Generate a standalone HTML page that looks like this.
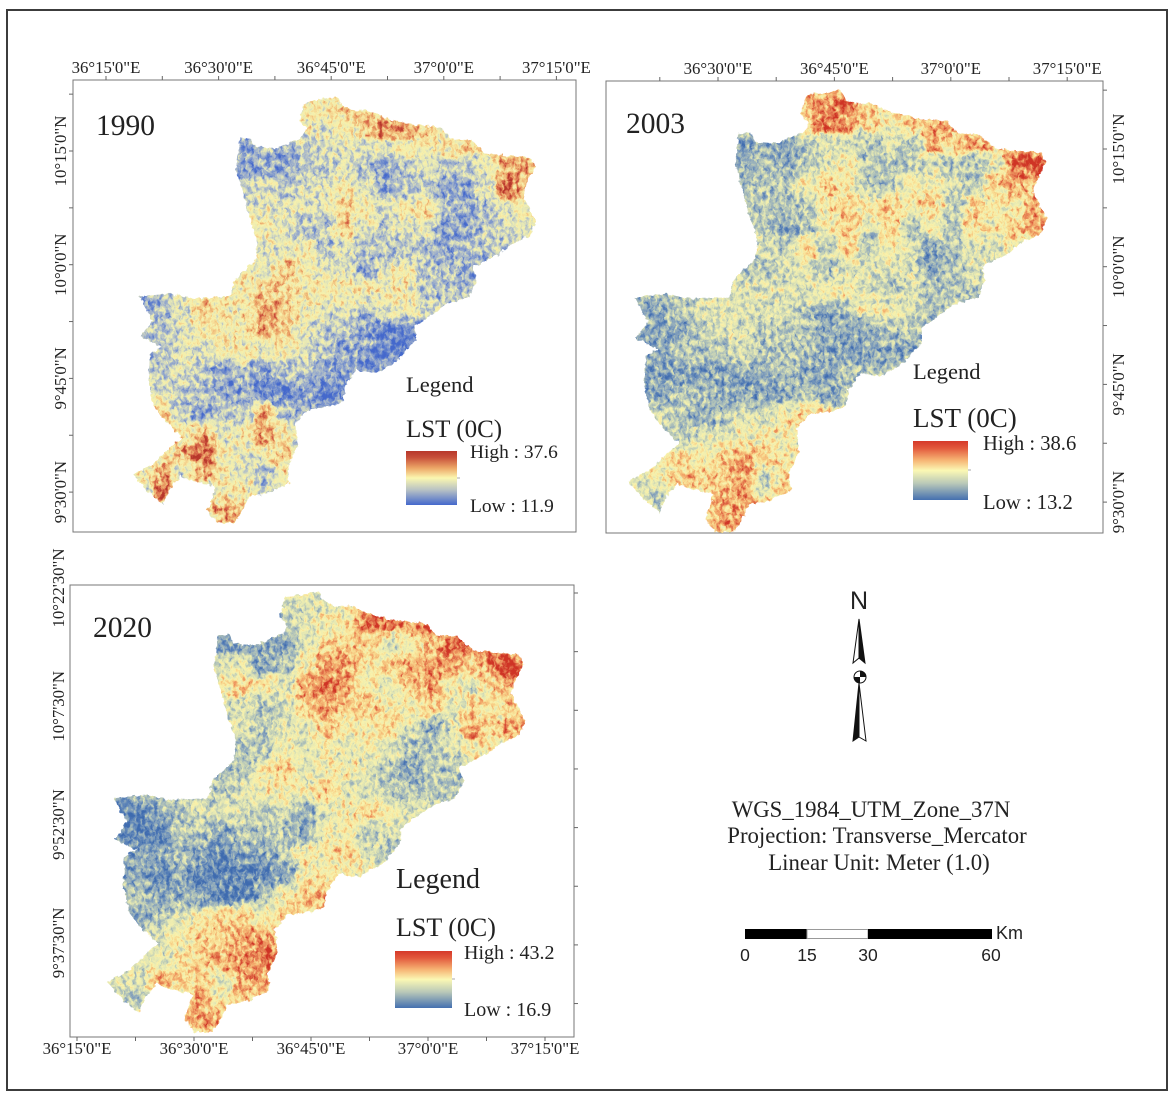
<!DOCTYPE html>
<html lang="en">
<head>
<meta charset="utf-8">
<title>LST maps 1990, 2003, 2020</title>
<style>
html,body{margin:0;padding:0;background:#fff;}
#fig{position:absolute;left:0;top:0;width:1175px;height:1097px;display:block;}
text{font-family:"Liberation Serif",serif;fill:#222;}
.sans{font-family:"Liberation Sans",sans-serif;}
</style>
</head>
<body>
<svg id="fig" xmlns="http://www.w3.org/2000/svg" width="1175" height="1097" viewBox="0 0 1175 1097">
<defs>
<filter id="edge" x="-3%" y="-3%" width="106%" height="106%" color-interpolation-filters="sRGB">
<feTurbulence type="fractalNoise" baseFrequency="0.22" numOctaves="2" seed="9" result="t"/>
<feDisplacementMap in="SourceGraphic" in2="t" scale="5" xChannelSelector="R" yChannelSelector="G"/>
</filter>
<linearGradient id="bar1990" x1="0" y1="0" x2="0" y2="1">
<stop offset="0" stop-color="#b7372b"/><stop offset=".12" stop-color="#c8503a"/><stop offset=".32" stop-color="#eda868"/><stop offset=".5" stop-color="#fbf7b0"/><stop offset=".72" stop-color="#b8c2c4"/><stop offset="1" stop-color="#4468cc"/>
</linearGradient>
<linearGradient id="barWarm" x1="0" y1="0" x2="0" y2="1">
<stop offset="0" stop-color="#d5392a"/><stop offset=".12" stop-color="#e2583c"/><stop offset=".32" stop-color="#f6b272"/><stop offset=".5" stop-color="#fbf8b4"/><stop offset=".72" stop-color="#b9c8b8"/><stop offset="1" stop-color="#4470b0"/>
</linearGradient>
</defs>

<rect x="7" y="10" width="1160" height="1080" fill="#fff" stroke="#3c3c3c" stroke-width="2"/>

<g id="maps"></g>

<text x="96" y="135" font-size="29.5">1990</text>
<text x="626" y="133" font-size="29.5">2003</text>
<text x="93" y="637" font-size="29.5">2020</text>

<g>
<text x="406" y="392" font-size="22.5">Legend</text>
<text x="406" y="437" font-size="25">LST (0C)</text>
<rect x="406" y="451" width="51" height="54" fill="url(#bar1990)"/>
<line x1="457" y1="478" x2="460" y2="478" stroke="#aaa"/>
<text x="470" y="458" font-size="19.4">High : 37.6</text>
<text x="470" y="512" font-size="19.4">Low : 11.9</text>
</g>
<g>
<text x="913" y="379" font-size="22.5">Legend</text>
<text x="913" y="427" font-size="27">LST (0C)</text>
<rect x="913" y="441" width="55" height="59" fill="url(#barWarm)"/>
<line x1="968" y1="470" x2="971" y2="470" stroke="#aaa"/>
<text x="983" y="450" font-size="20.6">High : 38.6</text>
<text x="983" y="509" font-size="20.6">Low : 13.2</text>
</g>
<g>
<text x="396" y="888" font-size="28">Legend</text>
<text x="396" y="936" font-size="26">LST (0C)</text>
<rect x="395" y="951" width="57" height="57" fill="url(#barWarm)"/>
<line x1="452" y1="979" x2="455" y2="979" stroke="#aaa"/>
<text x="464" y="959" font-size="20">High : 43.2</text>
<text x="464" y="1016" font-size="20">Low : 16.9</text>
</g>

<g>
<text class="sans" x="859" y="609" font-size="25" text-anchor="middle" fill="#111">N</text>
<path d="M859 619 L853 663 L859 658 Z" fill="#fff" stroke="#111" stroke-width="1"/>
<path d="M859 619 L865 663 L859 658 Z" fill="#111" stroke="#111" stroke-width="1"/>
<circle cx="860" cy="677" r="6" fill="#fff" stroke="#111" stroke-width="1"/>
<path d="M860 671 A6 6 0 0 1 866 677 L854 677 A6 6 0 0 0 860 683 Z" fill="#111"/>
<path d="M859 683 L853 741 L859 737 Z" fill="#111" stroke="#111" stroke-width="1"/>
<path d="M859 683 L866 741 L859 737 Z" fill="#fff" stroke="#111" stroke-width="1"/>
</g>

<g>
<text x="871" y="817" font-size="22.8" text-anchor="middle">WGS_1984_UTM_Zone_37N</text>
<text x="877" y="843" font-size="22.8" text-anchor="middle">Projection: Transverse_Mercator</text>
<text x="879" y="870" font-size="22.8" text-anchor="middle">Linear Unit: Meter (1.0)</text>
</g>

<g>
<rect x="745" y="929" width="62" height="10" fill="#000"/>
<rect x="807" y="929.5" width="61" height="9" fill="#fff" stroke="#999"/>
<rect x="868" y="929" width="124" height="10" fill="#000"/>
<text class="sans" x="996" y="939" font-size="18">Km</text>
<text class="sans" x="745" y="961" font-size="17.5" text-anchor="middle">0</text>
<text class="sans" x="807" y="961" font-size="17.5" text-anchor="middle">15</text>
<text class="sans" x="868" y="961" font-size="17.5" text-anchor="middle">30</text>
<text class="sans" x="991" y="961" font-size="17.5" text-anchor="middle">60</text>
</g>
</svg>

<script>
// Temperature class grids (0 coolest .. 9 hottest), read per map row, north to south.
const lst1990 = [
[4,4,4,4,4,4,4,4,5,5,6,6,6,5,5,5,5,5,5,5],
[3,3,3,3,3,3,3,4,5,4,5,6,8,7,6,5,5,5,5,5],
[3,3,3,3,3,2,3,2,3,4,4,4,4,5,5,5,6,5,6,6],
[3,3,3,3,3,2,2,2,3,3,4,3,2,3,4,3,3,4,7,7],
[3,3,3,3,3,3,4,3,4,4,5,4,2,3,3,2,2,4,8,6],
[4,4,4,4,4,4,4,4,4,4,6,5,4,5,6,3,2,3,4,5],
[4,4,4,4,4,5,5,4,3,3,6,4,3,4,4,2,2,3,4,4],
[4,4,4,4,4,4,4,4,5,3,4,3,3,3,3,2,3,3,3,3],
[4,4,4,4,5,5,4,6,5,4,4,2,4,5,3,3,2,2,3,3],
[2,3,4,5,5,5,6,6,5,5,5,5,5,5,3,3,3,3,3,3],
[2,3,4,6,5,5,7,6,5,4,4,3,4,5,4,3,4,4,4,4],
[3,3,4,5,5,5,7,6,4,3,3,2,1,1,2,2,3,3,3,3],
[3,3,4,4,5,5,4,5,4,3,2,2,1,1,2,2,3,3,3,3],
[3,3,4,3,2,3,2,3,3,2,2,1,2,2,2,2,3,3,3,3],
[4,4,3,3,2,2,1,1,2,1,1,2,2,2,2,2,3,3,3,3],
[6,6,3,2,3,3,7,3,2,2,3,3,3,3,3,3,3,3,3,3],
[5,5,5,6,4,5,7,5,3,3,3,3,3,3,3,3,3,3,3,3],
[4,5,7,8,5,4,5,6,4,4,4,4,4,4,4,4,4,4,4,4],
[5,7,4,7,5,4,3,5,5,5,5,5,5,5,5,5,5,5,5,5],
[4,8,5,4,5,5,3,4,4,4,4,4,4,4,4,4,4,4,4,4],
[4,4,5,5,7,6,4,4,4,4,4,4,4,4,4,4,4,4,4,4]
];
const lst2003 = [
[5,5,5,5,5,5,5,6,7,7,8,6,5,5,5,5,5,5,5,5],
[3,3,3,3,3,3,3,3,6,8,7,6,5,6,7,7,6,6,6,6],
[3,3,3,3,3,2,2,2,3,4,4,3,4,3,7,6,7,7,6,6],
[3,3,3,3,3,2,3,2,3,4,5,3,3,3,4,3,3,4,8,9],
[3,3,3,3,3,3,3,3,5,6,5,3,3,5,5,4,3,6,7,6],
[3,3,3,3,3,3,3,3,3,5,6,5,6,5,6,3,6,5,5,7],
[3,3,3,3,3,3,3,2,3,5,6,4,6,3,5,3,6,5,6,7],
[4,4,4,4,4,4,4,3,6,3,6,3,5,4,2,3,4,4,5,5],
[3,3,3,3,3,3,3,4,4,3,4,4,4,4,2,3,4,4,4,4],
[3,3,3,3,4,4,4,4,4,5,5,4,3,4,3,3,3,3,3,3],
[2,2,3,4,4,4,4,4,3,2,3,5,5,4,3,3,3,3,3,3],
[2,2,2,3,4,4,3,3,3,2,2,2,3,3,3,3,3,3,3,3],
[2,2,3,3,3,4,3,3,3,2,2,2,2,2,2,2,2,2,2,2],
[2,2,2,2,2,2,2,3,2,2,3,3,3,3,3,3,3,3,3,3],
[2,2,3,3,2,2,2,2,3,2,3,3,3,3,3,3,3,3,3,3],
[4,4,3,2,3,4,4,5,6,6,5,5,5,5,5,5,5,5,5,5],
[3,3,3,4,4,5,5,5,5,5,5,5,5,5,5,5,5,5,5,5],
[5,5,6,5,6,7,6,5,5,5,5,5,5,5,5,5,5,5,5,5],
[4,5,6,6,6,7,3,6,5,5,5,5,5,5,5,5,5,5,5,5],
[4,3,5,5,7,7,6,6,6,6,6,6,6,6,6,6,6,6,6,6],
[5,5,5,6,7,7,6,6,6,6,6,6,6,6,6,6,6,6,6,6]
];
const lst2020 = [
[4,4,4,4,4,4,4,4,4,4,4,5,6,7,6,6,6,6,6,6],
[3,3,3,3,3,3,3,3,3,4,5,5,8,8,7,8,6,6,6,6],
[3,3,3,3,3,2,2,2,2,4,6,6,6,4,5,6,8,8,7,6],
[4,4,4,4,4,4,4,2,3,5,7,7,5,6,7,7,7,6,8,9],
[5,5,5,5,5,5,6,5,4,7,8,7,5,4,6,7,5,4,6,7],
[4,4,4,4,4,4,4,3,4,6,7,6,6,5,5,6,4,6,5,6],
[4,4,4,4,4,4,4,3,4,4,6,5,5,6,4,2,4,7,6,7],
[3,3,3,3,3,3,3,3,5,4,5,4,5,4,3,3,4,5,5,5],
[3,3,3,3,3,3,3,5,6,4,5,5,4,3,2,3,3,4,4,4],
[3,3,3,3,3,3,4,5,5,5,6,4,4,3,3,3,3,3,3,3],
[1,1,2,3,4,4,4,3,4,2,4,5,6,5,4,4,4,4,4,4],
[1,1,1,3,3,2,3,3,3,2,5,5,3,4,4,4,4,4,4,4],
[2,2,2,3,2,1,2,2,3,5,5,6,4,3,3,3,3,3,3,3],
[2,2,1,2,1,1,1,1,2,5,5,5,5,5,5,5,5,5,5,5],
[3,3,2,2,2,1,1,3,5,6,7,6,6,6,6,6,6,6,6,6],
[2,2,3,4,5,6,6,5,6,6,6,6,6,6,6,6,6,6,6,6],
[4,4,4,5,6,6,7,7,6,6,6,6,6,6,6,6,6,6,6,6],
[4,4,4,5,6,7,7,8,7,7,7,7,7,7,7,7,7,7,7,7],
[4,4,7,6,6,4,7,7,7,7,7,7,7,7,7,7,7,7,7,7],
[3,3,4,5,7,5,6,6,6,6,6,6,6,6,6,6,6,6,6,6],
[6,6,6,7,7,7,6,6,6,6,6,6,6,6,6,6,6,6,6,6]
];
const ramp1990 = ['#4468cc','#6483cc','#92a6cc','#bcc7c6','#e6e8b6','#f8f2ac','#f5d38e','#eba568','#d8684a','#b7372b'];
const rampWarm = ['#3f6bb0','#5f86b8','#8ea8bc','#b8c8b8','#e2e6b4','#f9f3ad','#f8d68c','#f2a568','#e06c48','#cf3426'];
// Study-area boundary as traced vertices in the tracing frame below.
const boundaryU = [795,880,890,920,960,1010,1060,1150,1175,1230,1270,1385,1397,1375,1365,1380,1400,1385,1340,1300,1235,1245,1225,1170,1130,1085,1085,1040,980,930,900,895,860,800,770,775,750,755,700,650,630,610,565,540,550,560,490,470,440,425,380,345,400,455,475,430,400,385,390,420,365,395,362,440,500,600,610,665,670,650,630,615,625,655,665,720,790,800,780];
const boundaryV = [185,170,195,210,210,235,250,262,295,300,340,352,380,430,465,500,545,585,610,645,680,720,770,790,820,860,900,960,1000,990,1040,1085,1100,1110,1150,1220,1280,1330,1360,1370,1420,1450,1450,1410,1380,1340,1320,1310,1350,1395,1350,1305,1270,1210,1195,1145,1100,1020,940,920,890,840,770,760,775,770,720,660,600,530,450,385,295,295,320,325,290,265,240];
const frameU = [345,1400];
const frameV = [170,1450];

const lonLabels = ["36°15'0\"E","36°30'0\"E","36°45'0\"E","37°0'0\"E","37°15'0\"E"];
const lonLabels2003 = ["36°30'0\"E","36°45'0\"E","37°0'0\"E","37°15'0\"E"];
const latLabels = ["10°15'0\"N","10°0'0\"N","9°45'0\"N","9°30'0\"N"];
const latLabels2020 = ["10°22'30\"N","10°7'30\"N","9°52'30\"N","9°37'30\"N"];

const panels = [
 {key:'1990',grid:lst1990,ramp:ramp1990,frame:[73,80,503,452],box:[133,97,403,426],side:'left',lonSide:'top',
  lon:lonLabels,lonX0:106,lonStep:112.6,latY0:151,latStep:113.7,lats:latLabels,latX:60,lonY:73,seed:3},
 {key:'2003',grid:lst2003,ramp:rampWarm,frame:[606,81,497,452],box:[628,90,419,442],side:'right',lonSide:'top',
  lon:lonLabels2003,lonX0:718,lonStep:116.4,latY0:149,latStep:117.7,lats:latLabels,latX:1118,lonY:74,seed:7},
 {key:'2020',grid:lst2020,ramp:rampWarm,frame:[70,585,504,452],box:[107,592,418,440],side:'right',lonSide:'bottom',
  lon:lonLabels,lonX0:77,lonStep:117,latY0:593,latStep:117.3,lats:latLabels2020,latX:58,lonY:1054,seed:11}
];

const SVGNS = 'http://www.w3.org/2000/svg';
function mk(tag, attrs, parent){
  const e = document.createElementNS(SVGNS, tag);
  for (const k in attrs) e.setAttribute(k, attrs[k]);
  parent.appendChild(e);
  return e;
}
const root = document.getElementById('maps');
const defs = document.querySelector('svg defs');

function channelTable(ramp, start){
  return ramp.map(function(hex){ return (parseInt(hex.substr(start, 2), 16) / 255).toFixed(3); }).join(' ');
}
// Colour-maps a grey value raster plus terrain noise through the legend ramp.
function rasterFilter(id, ramp, seed){
  const f = mk('filter', {id:id, x:'-8%', y:'-8%', width:'116%', height:'116%', 'color-interpolation-filters':'sRGB'}, defs);
  mk('feGaussianBlur', {in:'SourceGraphic', stdDeviation:4, result:'b'}, f);
  mk('feTurbulence', {type:'fractalNoise', baseFrequency:'0.06 0.08', numOctaves:3, seed:seed, result:'t'}, f);
  mk('feDisplacementMap', {in:'b', in2:'t', scale:18, xChannelSelector:'R', yChannelSelector:'G', result:'d'}, f);
  mk('feTurbulence', {type:'fractalNoise', baseFrequency:'0.24 0.15', numOctaves:3, seed:seed + 20, result:'n0'}, f);
  mk('feColorMatrix', {in:'n0', type:'matrix', values:'1 0 0 0 0  1 0 0 0 0  1 0 0 0 0  0 0 0 0 1', result:'n'}, f);
  mk('feComposite', {in:'d', in2:'n', operator:'arithmetic', k1:0, k2:1, k3:0.75, k4:-0.375, result:'v'}, f);
  const ct = mk('feComponentTransfer', {in:'v'}, f);
  mk('feFuncR', {type:'table', tableValues:channelTable(ramp, 1)}, ct);
  mk('feFuncG', {type:'table', tableValues:channelTable(ramp, 3)}, ct);
  mk('feFuncB', {type:'table', tableValues:channelTable(ramp, 5)}, ct);
}

panels.forEach(function(p){
  rasterFilter('raster' + p.key, p.ramp, p.seed);
  const g = mk('g', {}, root);
  
  

  const f = p.frame;
  const fr = mk('rect', {x:f[0],y:f[1],width:f[2],height:f[3],fill:'#fff',stroke:'#777','stroke-width':1}, g);
  
  

  const b = p.box;
  const sx = function(u){ return b[0] + (u - frameU[0]) / (frameU[1] - frameU[0]) * b[2]; };
  const sy = function(v){ return b[1] + (v - frameV[0]) / (frameV[1] - frameV[0]) * b[3]; };
  const pts = boundaryU.map(function(u, i){ return sx(u).toFixed(1) + ',' + sy(boundaryV[i]).toFixed(1); }).join(' ');
  const clip = mk('clipPath', {id:'clip' + p.key}, defs);
  mk('polygon', {points:pts}, clip);

  const edge = mk('g', {filter:'url(#edge)'}, g);
  const clipped = mk('g', {'clip-path':'url(#clip' + p.key + ')'}, edge);
  
  
  const cells = mk('g', {filter:'url(#raster' + p.key + ')'}, clipped);
  const base = mk('rect', {x:b[0]-30,y:b[1]-30,width:b[2]+60,height:b[3]+60,fill:'rgb(128,128,128)'}, cells);
  
  
  const rows = p.grid.length, cols = p.grid[0].length;
  const cw = b[2] / cols, ch = b[3] / rows;
  p.grid.forEach(function(row, r){
    row.forEach(function(val, c){
      const level = Math.round(Math.max(0, Math.min(9, val)) / 9 * 255);
      const cell = mk('rect', {x:(b[0] + c * cw).toFixed(1), y:(b[1] + r * ch).toFixed(1), width:(cw + 0.6).toFixed(1), height:(ch + 0.6).toFixed(1), fill:'rgb(' + level + ',' + level + ',' + level + ')'}, cells);
      
      
    });
  });

  // longitude ticks and labels
  const lonEdge = p.lonSide === 'top' ? f[1] : f[1] + f[3];
  const dir = p.lonSide === 'top' ? -1 : 1;
  const half = p.lonStep / 2;
  for (let i = -1; i <= p.lon.length * 2; i++){
    const x = p.lonX0 + i * half;
    if (x <= f[0] + 1 || x >= f[0] + f[2] - 1) continue;
    const t = mk('line', {x1:x,x2:x,y1:lonEdge,y2:lonEdge + dir * 4,stroke:'#666','stroke-width':1}, g);
    
    
  }
  p.lon.forEach(function(label, i){
    const t = mk('text', {x:p.lonX0 + i * p.lonStep, y:p.lonY, 'font-size':16.8, 'text-anchor':'middle'}, g);
    t.textContent = label;
    
    
  });

  // latitude ticks and labels
  const latEdge = p.side === 'left' ? f[0] : f[0] + f[2];
  const ldir = p.side === 'left' ? -1 : 1;
  for (let i = -2; i < 10; i++){
    const y = p.latY0 + i * p.latStep / 2;
    if (y <= f[1] + 1 || y >= f[1] + f[3] - 1) continue;
    const t = mk('line', {x1:latEdge,x2:latEdge + ldir * 4,y1:y,y2:y,stroke:'#666','stroke-width':1}, g);
    
    
  }
  p.lats.forEach(function(label, i){
    const y = p.key === '2020' ? 588 + i * 118.3 : p.latY0 + i * p.latStep;
    const t = mk('text', {x:0, y:0, 'font-size':16.8, 'text-anchor':'middle', transform:'translate(' + (p.latX + 6) + ' ' + y + ') rotate(-90)'}, g);
    t.textContent = label;
    
    
  });
});
</script>
</body>
</html>
